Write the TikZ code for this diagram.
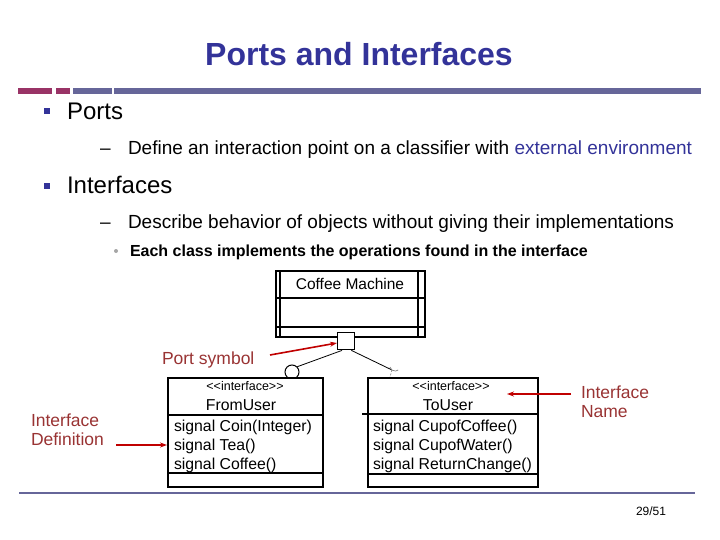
\documentclass[tikz,border=0pt]{standalone}
\usepackage{fontspec}
\setmainfont{Liberation Sans}
\usetikzlibrary{arrows.meta}
\definecolor{navy}{HTML}{333399}
\definecolor{barpurple}{HTML}{666699}
\definecolor{barmag}{HTML}{993366}
\definecolor{lblred}{HTML}{993333}
\definecolor{arrred}{HTML}{C00000}
\newcommand{\ifacestereo}{<\kern0pt<interface>\kern0pt>}
\tikzset{
  txt/.style={anchor=base west, inner sep=0pt, outer sep=0pt},
  lbl/.style={txt, text=lblred, font=\fontsize{17.5}{19}\selectfont, align=left},
  uml/.style={inner sep=0pt, outer sep=0pt, font=\fontsize{15.8}{18}\selectfont},
  stereo/.style={inner sep=0pt, outer sep=0pt, font=\fontsize{12.5}{15}\selectfont},
  boxline/.style={line width=1.6pt},
  redarrow/.style={draw=arrred, line width=1.6pt, -{Stealth[length=7pt,width=5pt]}},
}
\begin{document}
\begin{tikzpicture}[x=1pt,y=-1pt]
\useasboundingbox (0,0) rectangle (720,540);
% title
\node[inner sep=0pt, anchor=base, text=navy, font=\fontsize{32}{36}\selectfont\bfseries] (title) at (359,66) {Ports and Interfaces};
% header bars
\fill[barmag] (18,88) rectangle (52,94);
\fill[barmag] (56,88) rectangle (70,94);
\fill[barpurple] (73,88) rectangle (112,94);
\fill[barpurple] (114,88) rectangle (701,94);
% bullets
\fill[navy] (43.5,108.5) rectangle (49.5,114.5);
\node[txt, font=\fontsize{24}{28}\selectfont] (ports) at (67,120) {Ports};
\node[txt, font=\fontsize{19}{23}\selectfont] (dash1) at (100,155) {–};
\node[txt, font=\fontsize{19}{23}\selectfont] (def) at (128,155) {Define an interaction point on a classifier with \textcolor{navy}{external environment}};
\fill[navy] (43.5,183.5) rectangle (49.5,189.5);
\node[txt, font=\fontsize{24}{28}\selectfont] (ifaces) at (67,194) {Interfaces};
\node[txt, font=\fontsize{19}{23}\selectfont] (dash2) at (100,229) {–};
\node[txt, font=\fontsize{19}{23}\selectfont] (desc) at (128,229) {Describe behavior of objects without giving their implementations};
\fill[gray!70] (116,251) circle (2);
\node[txt, font=\fontsize{16}{19}\selectfont\bfseries] (each) at (130,256) {Each class implements the operations found in the interface};
% Coffee machine
\node[draw, boxline, minimum width=149, minimum height=66, inner sep=0pt, anchor=north west] (cm) at (275,270) {};
\draw[boxline] (280,270) -- (280,336) (418,270) -- (418,336);
\draw[boxline] (275,298) -- (424,298) (275,327) -- (424,327);
\node[uml, anchor=base, font=\fontsize{15.5}{18}\selectfont] (cmt) at (350,289) {Coffee Machine};
% port
\node[draw, line width=1.4pt, fill=white, minimum size=17, inner sep=0pt, anchor=north west] (port) at (337,332) {};
% ball and socket
\coordinate (ballc) at (292,372);
\node[draw, circle, line width=1pt, minimum size=14, inner sep=0pt] (ball) at (ballc) {};
\coordinate (sock) at (392,370);
\draw[line width=0.8pt] (port.south west) ++(5,0) -- (ball.north east);
\draw[line width=0.8pt] (port.south east) ++(-4,0) -- (sock);
\draw[gray, line width=0.7pt] (sock) ++(-2,-3) arc[start angle=170, end angle=50, radius=5];
\draw[gray, line width=0.6pt, dash pattern=on 2pt off 1.5pt] (sock) -- ++(-2,7);
% FromUser
\node[draw, boxline, fill=white, minimum width=155, minimum height=109, inner sep=0pt, anchor=north west] (from) at (167,377) {};
\draw[boxline] (167,415) -- (322,415) (167,473) -- (322,473);
\node[stereo, anchor=base] (fi) at (245,390) {\ifacestereo};
\node[uml, anchor=base] (fn) at (241,410) {FromUser};
\node[uml, anchor=base west] (f1) at (174,431) {signal Coin(Integer)};
\node[uml, anchor=base west] (f2) at (174,450) {signal Tea()};
\node[uml, anchor=base west] (f3) at (174,469) {signal Coffee()};
% ToUser
\node[draw, boxline, fill=white, minimum width=170, minimum height=109, inner sep=0pt, anchor=north west] (to) at (367,377) {};
\draw[boxline] (362,414) -- (537,414) (367,474) -- (537,474);
\node[stereo, anchor=base] (ti) at (451,390) {\ifacestereo};
\node[uml, anchor=base] (tn) at (448,410) {ToUser};
\node[uml, anchor=base west] (t1) at (373,431) {signal Cupof\kern-0.3ptCoffee()};
\node[uml, anchor=base west] (t2) at (373,450) {signal Cupof\kern-0.3ptWater()};
\node[uml, anchor=base west] (t3) at (373,469) {signal ReturnChange()};
% labels and arrows
\node[lbl] (psym) at (162,364) {Port symbol};
\coordinate (pstart) at (270,355);
\draw[redarrow] (pstart) -- (port.west |- 0,343);
\node[lbl, anchor=north west] (iname) at (581,386) {Interface\\Name};
\coordinate (nstart) at (571,394);
\coordinate (nend) at (507,394);
\draw[redarrow] (nstart) -- (nend);
\node[lbl, anchor=north west] (idef) at (31,414) {Interface\\Definition};
\coordinate (dstart) at (116,445);
\draw[redarrow] (dstart) -- (from.west |- 0,445);
% footer
\draw[barpurple, line width=2pt] (19,493) -- (695,493);
\node[txt, font=\fontsize{12}{14}\selectfont] (pg) at (636,515) {29/51};
\end{tikzpicture}
\end{document}
